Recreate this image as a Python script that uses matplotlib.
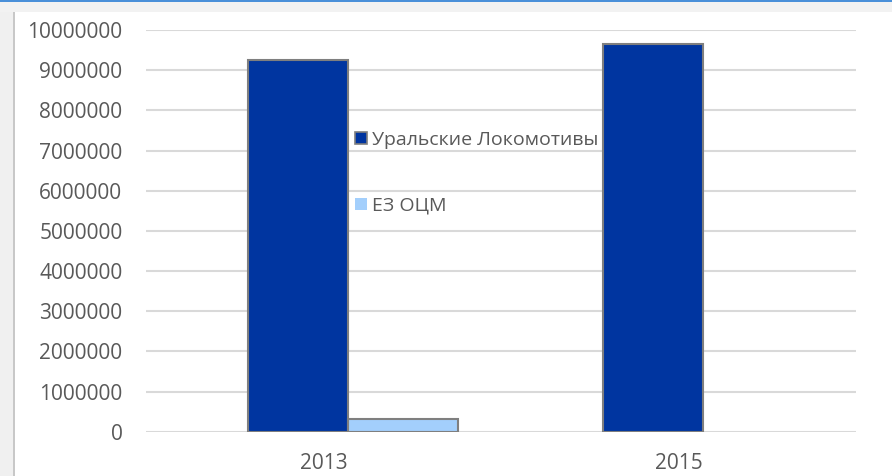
import numpy as np
import matplotlib.pyplot as plt
from matplotlib.patches import Rectangle, Patch

years = ['2013', '2015']
ural_loko = [9250000, 9650000]
ez_ocm = [310000, np.nan]
series_names = ['Уральские Локомотивы', 'ЕЗ ОЦМ']

dark = '#0035a0'
light = '#a3cffc'
edge = '#7f7f7f'
txt = '#595959'

plt.rcParams['font.family'] = ['Open Sans', 'DejaVu Sans']

fig = plt.figure(figsize=(8.92, 4.76), dpi=100)
fig.patch.set_facecolor('white')

# window frame bits from the screenshot
fig.patches.append(Rectangle((0, 0), 13 / 892, 1, transform=fig.transFigure,
                             facecolor='#f0f0f0', edgecolor='none', zorder=0))
fig.patches.append(Rectangle((13 / 892, 0), 2 / 892, 1 - 12 / 476, transform=fig.transFigure,
                             facecolor='#c8c8c8', edgecolor='none', zorder=0))
fig.patches.append(Rectangle((0, 1 - 12 / 476), 1, 10 / 476, transform=fig.transFigure,
                             facecolor='#f2f2f2', edgecolor='none', zorder=0))
fig.patches.append(Rectangle((0, 1 - 2 / 476), 1, 2 / 476, transform=fig.transFigure,
                             facecolor='#4a90d9', edgecolor='none', zorder=1))

ax = fig.add_axes([146 / 892, 1 - 431.7 / 476, 710 / 892, (431.7 - 30) / 476])
x = np.arange(len(years))
ax.bar(x - 0.071, ural_loko, width=0.282, color=dark, edgecolor=edge, linewidth=1.5, zorder=3)
ax.bar(x + 0.225, ez_ocm, width=0.310, color=light, edgecolor=edge, linewidth=1.5, zorder=3)

ax.set_xlim(-0.5, 1.5)
ax.set_ylim(0, 10000000)
ax.set_yticks(np.arange(0, 10000001, 1000000))
ax.set_yticklabels([str(v) for v in range(0, 10000001, 1000000)])
ax.set_xticks(x)
ax.set_xticklabels(years)
ax.grid(axis='y', color='#d9d9d9', linewidth=1.5, zorder=0)
ax.set_axisbelow(True)
for s in ax.spines.values():
    s.set_visible(False)
ax.tick_params(axis='both', length=0, labelsize=15, labelcolor=txt)
ax.tick_params(axis='y', pad=17)
ax.tick_params(axis='x', pad=15)

handles = [Patch(facecolor=dark, edgecolor=edge, linewidth=1.2),
           Patch(facecolor=light, edgecolor='none')]
leg = fig.legend(handles, series_names, loc='upper left',
                 bbox_to_anchor=(355 / 892, 1 - 131 / 476), frameon=False,
                 fontsize=14, labelcolor=txt, handlelength=0.6, handleheight=0.6,
                 handletextpad=0.3, labelspacing=2.45, borderpad=0, borderaxespad=0)

fig.savefig('out.png', dpi=100, facecolor=fig.get_facecolor())
